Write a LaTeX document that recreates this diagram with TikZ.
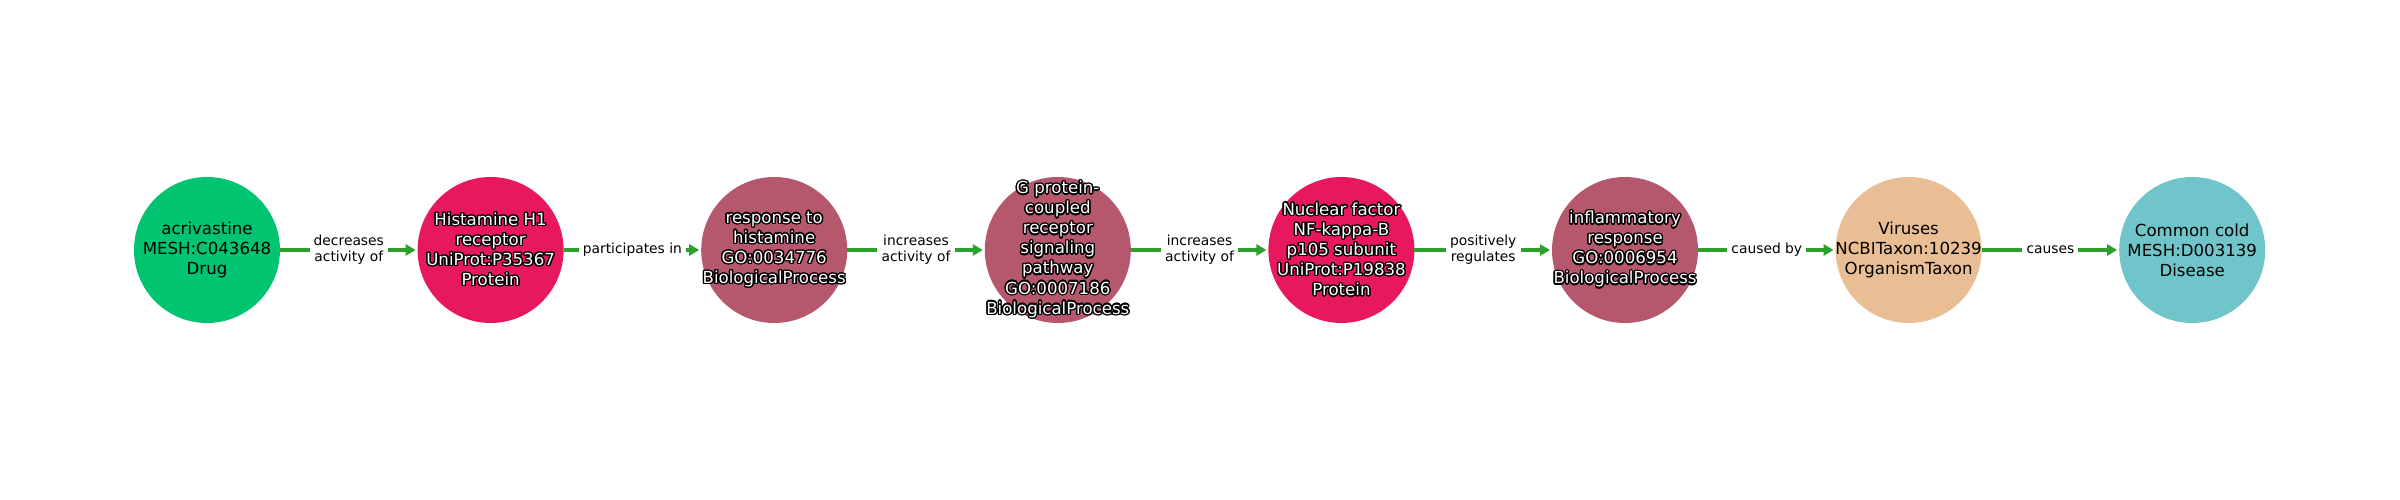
\documentclass[tikz,border=0pt]{standalone}
\usepackage{fontspec}
\setmainfont{DejaVu Sans}
\usepackage{contour}
\usetikzlibrary{arrows.meta}

\contourlength{1pt}
\newcommand{\wl}[1]{\contour{black}{#1}}

\definecolor{drugcol}{RGB}{0,196,112}
\definecolor{proteincol}{RGB}{232,24,94}
\definecolor{processcol}{RGB}{181,88,110}
\definecolor{taxoncol}{RGB}{233,190,148}
\definecolor{diseasecol}{RGB}{112,197,203}
\definecolor{edgegreen}{RGB}{44,160,44}

\tikzstyle{entity} = [circle, minimum size=1.46in, inner sep=0pt, outer sep=0pt, 
node distance=2.836in]
\tikzstyle{drug} = [entity, fill=drugcol]
\tikzstyle{protein} = [entity, fill=proteincol]
\tikzstyle{process} = [entity, fill=processcol]
\tikzstyle{taxon} = [entity, fill=taxoncol]
\tikzstyle{disease} = [entity, fill=diseasecol]
\tikzstyle{darkcap} = [align=center, inner sep=0pt, text=black, font=\fontsize{12}{14.5}\selectfont]
\tikzstyle{lightcap} = [align=center, inner sep=0pt, text=white, font=\fontsize{12}{14.5}\selectfont]
\tikzstyle{relation} = [fill=white, text=black, inner sep=3pt, align=center, 
font=\fontsize{10}{11.5}\selectfont]
\tikzstyle{arrow} = [line width=0.04in, draw=edgegreen, shorten >=0.02in, -{Triangle[length=0.1in,width=0.11in]}]

\begin{document}
\begin{tikzpicture}

\useasboundingbox (0,0) rectangle (24in,5in);

	%Nodes along the chain, left to right (text set as labels so the circles keep their size)
	\node[drug, label={[darkcap]center:{acrivastine\\MESH:C043648\\Drug}}](acrivastine) at (2.07in,2.5in) {};
	\node[protein, right of=acrivastine, label={[lightcap]center:{\wl{Histamine H1}\\\wl{receptor}\\\wl{UniProt:P35367}\\\wl{Protein}}}](HRH1){};
	\node[process, right of=HRH1, label={[lightcap]center:{\wl{response to}\\\wl{histamine}\\\wl{GO:0034776}\\\wl{BiologicalProcess}}}](histresp){};
	\node[process, right of=histresp, label={[lightcap]center:{\wl{G protein-}\\\wl{coupled}\\\wl{receptor}\\\wl{signaling}\\\wl{pathway}\\\wl{GO:0007186}\\\wl{BiologicalProcess}}}](GPCR){};
	\node[protein, right of=GPCR, label={[lightcap]center:{\wl{Nuclear factor}\\\wl{NF-kappa-B}\\\wl{p105 subunit}\\\wl{UniProt:P19838}\\\wl{Protein}}}](NFKB1){};
	\node[process, right of=NFKB1, label={[lightcap]center:{\wl{inflammatory}\\\wl{response}\\\wl{GO:0006954}\\\wl{BiologicalProcess}}}](inflam){};
	\node[taxon, right of=inflam, label={[darkcap]center:{Viruses\\NCBITaxon:10239\\OrganismTaxon}}](viruses){};
	\node[disease, right of=viruses, label={[darkcap]center:{Common cold\\MESH:D003139\\Disease}}](cold){};

	%Arrows with their relation labels
	\path[arrow] (acrivastine) -- node[relation]{decreases\\activity of} (HRH1);
	\path[arrow] (HRH1) -- node[relation]{participates in} (histresp);
	\path[arrow] (histresp) -- node[relation]{increases\\activity of} (GPCR);
	\path[arrow] (GPCR) -- node[relation]{increases\\activity of} (NFKB1);
	\path[arrow] (NFKB1) -- node[relation]{positively\\regulates} (inflam);
	\path[arrow] (inflam) -- node[relation]{caused by} (viruses);
	\path[arrow] (viruses) -- node[relation]{causes} (cold);

\end{tikzpicture}
\end{document}
